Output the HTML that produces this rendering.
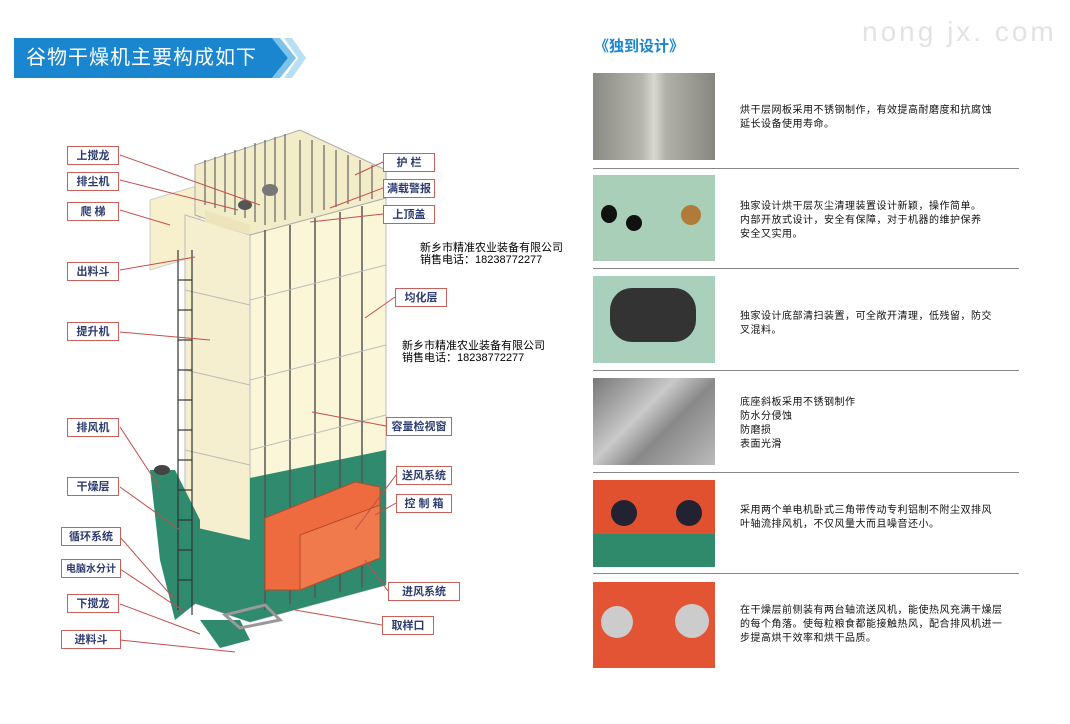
<!DOCTYPE html>
<html><head><meta charset="utf-8"><style>
body{margin:0;width:1070px;height:724px;background:#fff;overflow:hidden;position:relative;font-family:"Liberation Sans","Noto Sans CJK SC",sans-serif}
.lb{position:absolute;width:52px;height:19px;border:1px solid #c9605a;background:#fff;color:#2c3c70;font-size:11px;font-weight:bold;text-align:center;line-height:19px;box-sizing:border-box}
.ph{position:absolute;left:593px;width:122px}
.tx{position:absolute;left:740px;font-size:10px;line-height:14px;color:#111;letter-spacing:0.5px}
.ln{position:absolute;left:593px;width:426px;height:1px;background:#888}
.wm{position:absolute;font-size:11px;line-height:12px;color:#000}
</style></head><body>
<svg width="1070" height="724" style="position:absolute;left:0;top:0">
<polygon points="14,38 272,38 288,58 272,78 14,78" fill="#1a86cf"/>
<polygon points="272,38 280,38 296,58 280,78 272,78 288,58" fill="#7cc2ea"/>
<polygon points="284,38 292,38 306,58 292,78 284,78 298,58" fill="#b8def3"/>
<!-- tower -->
<polygon points="150,200 200,185 200,255 150,270" fill="#f8f0cc" stroke="#ccc" stroke-width="1"/>
<polygon points="185,215 250,235 250,622 185,600" fill="#f6efcf" stroke="#bbb"/>
<polygon points="250,235 386,198 386,585 250,622" fill="#fbf6d8" stroke="#bbb"/>
<polygon points="195,165 300,130 386,170 386,198 250,235 195,215" fill="#f3ecc8" stroke="#aaa"/>
<polygon points="205,210 250,225 250,235 205,222" fill="#eee4bc"/>
<g stroke="#666" stroke-width="1.2">
<line x1="205" y1="160" x2="205" y2="205"/><line x1="215" y1="157" x2="215" y2="208"/><line x1="225" y1="153" x2="225" y2="212"/><line x1="235" y1="150" x2="235" y2="215"/><line x1="245" y1="147" x2="245" y2="218"/><line x1="255" y1="143" x2="255" y2="222"/><line x1="265" y1="140" x2="265" y2="225"/><line x1="275" y1="137" x2="275" y2="222"/><line x1="285" y1="134" x2="285" y2="220"/>
<line x1="300" y1="140" x2="300" y2="216"/><line x1="312" y1="140" x2="312" y2="213"/><line x1="324" y1="145" x2="324" y2="210"/><line x1="336" y1="150" x2="336" y2="207"/><line x1="348" y1="155" x2="348" y2="204"/><line x1="360" y1="160" x2="360" y2="201"/><line x1="372" y1="165" x2="372" y2="199"/>
</g>
<polygon points="250,478 386,450 386,585 250,622" fill="#2f8a6e"/>
<polygon points="185,525 250,540 250,622 185,600" fill="#2f8a6e"/>
<polygon points="150,470 175,470 200,520 200,600 175,620 160,560" fill="#2f8a6e"/>
<polygon points="200,620 240,620 250,640 220,648" fill="#2f8a6e"/>
<g stroke="#555" stroke-width="1.5">
<line x1="265" y1="230" x2="265" y2="610"/><line x1="290" y1="225" x2="290" y2="604"/><line x1="315" y1="218" x2="315" y2="598"/><line x1="340" y1="212" x2="340" y2="592"/><line x1="362" y1="206" x2="362" y2="588"/>
</g>
<g stroke="#bbb" stroke-width="1"><line x1="250" y1="300" x2="386" y2="265"/><line x1="250" y1="380" x2="386" y2="345"/><line x1="250" y1="450" x2="386" y2="415"/><line x1="185" y1="290" x2="250" y2="305"/><line x1="185" y1="370" x2="250" y2="385"/><line x1="185" y1="450" x2="250" y2="465"/></g>
<g stroke="#333" stroke-width="1.2"><line x1="178" y1="250" x2="178" y2="610"/><line x1="192" y1="250" x2="192" y2="615"/>
<line x1="178" y1="280" x2="192" y2="280"/><line x1="178" y1="310" x2="192" y2="310"/><line x1="178" y1="340" x2="192" y2="340"/><line x1="178" y1="370" x2="192" y2="370"/><line x1="178" y1="400" x2="192" y2="400"/><line x1="178" y1="430" x2="192" y2="430"/><line x1="178" y1="460" x2="192" y2="460"/><line x1="178" y1="490" x2="192" y2="490"/><line x1="178" y1="520" x2="192" y2="520"/><line x1="178" y1="550" x2="192" y2="550"/><line x1="178" y1="580" x2="192" y2="580"/></g>
<polygon points="265,518 355,482 380,487 380,558 300,590 265,590" fill="#ee6b3f" stroke="#b84a2a"/>
<polygon points="300,535 380,505 380,558 300,590" fill="#f07a4c" stroke="#b84a2a"/>
<polygon points="225,615 265,605 280,620 240,628" fill="none" stroke="#999" stroke-width="3"/>
<ellipse cx="270" cy="190" rx="8" ry="6" fill="#777"/><ellipse cx="245" cy="205" rx="7" ry="5" fill="#555"/>
<ellipse cx="162" cy="470" rx="8" ry="5" fill="#444"/>
<g stroke="#c0504d" stroke-width="1">
<line x1="120" y1="155" x2="260" y2="205"/><line x1="120" y1="180" x2="238" y2="210"/><line x1="120" y1="210" x2="170" y2="225"/><line x1="120" y1="270" x2="195" y2="257"/><line x1="120" y1="332" x2="210" y2="340"/><line x1="120" y1="427" x2="160" y2="488"/><line x1="120" y1="487" x2="180" y2="530"/><line x1="120" y1="537" x2="175" y2="600"/><line x1="120" y1="569" x2="185" y2="612"/><line x1="120" y1="604" x2="200" y2="634"/><line x1="120" y1="640" x2="235" y2="652"/>
<line x1="383" y1="162" x2="355" y2="175"/><line x1="383" y1="188" x2="330" y2="208"/><line x1="383" y1="214" x2="310" y2="222"/><line x1="395" y1="297" x2="365" y2="318"/><line x1="386" y1="426" x2="312" y2="412"/><line x1="396" y1="475" x2="355" y2="530"/><line x1="396" y1="503" x2="375" y2="515"/><line x1="388" y1="591" x2="365" y2="560"/><line x1="382" y1="625" x2="295" y2="610"/>
</g>
</svg>
<div style="position:absolute;left:26px;top:46px;color:#fff;font-size:20px;letter-spacing:1px;line-height:24px">谷物干燥机主要构成如下</div>
<div class="lb" style="left:67px;top:146px">上搅龙</div>
<div class="lb" style="left:67px;top:172px">排尘机</div>
<div class="lb" style="left:67px;top:202px">爬 梯</div>
<div class="lb" style="left:67px;top:262px">出料斗</div>
<div class="lb" style="left:67px;top:322px">提升机</div>
<div class="lb" style="left:67px;top:418px">排风机</div>
<div class="lb" style="left:67px;top:477px">干燥层</div>
<div class="lb" style="left:61px;top:527px;width:60px">循环系统</div>
<div class="lb" style="left:61px;top:559px;width:60px;font-size:10px">电脑水分计</div>
<div class="lb" style="left:67px;top:594px">下搅龙</div>
<div class="lb" style="left:61px;top:630px;width:60px">进料斗</div>
<div class="lb" style="left:383px;top:153px">护 栏</div>
<div class="lb" style="left:383px;top:179px">满载警报</div>
<div class="lb" style="left:383px;top:205px">上顶盖</div>
<div class="lb" style="left:395px;top:288px">均化层</div>
<div class="lb" style="left:386px;top:417px;width:66px">容量检视窗</div>
<div class="lb" style="left:396px;top:466px;width:56px">送风系统</div>
<div class="lb" style="left:396px;top:494px;width:56px">控 制 箱</div>
<div class="lb" style="left:388px;top:582px;width:72px">进风系统</div>
<div class="lb" style="left:382px;top:616px">取样口</div>
<div class="wm" style="left:420px;top:242px">新乡市精准农业装备有限公司<br>销售电话：18238772277</div>
<div class="wm" style="left:402px;top:340px">新乡市精准农业装备有限公司<br>销售电话：18238772277</div>
<div style="position:absolute;left:862px;top:16px;font-size:28px;color:#e3e3e3;letter-spacing:3px">nong jx. com</div>
<div style="position:absolute;left:594px;top:35px;font-size:15px;font-weight:bold;color:#1a86cf">《独到设计》</div>
<div class="ph" style="top:73px;height:87px;background:linear-gradient(90deg,#8a8a84,#b5b5ac 40%,#d8d8d0 50%,#b0b0a8 60%,#86867e)"></div>
<div class="ph" style="top:175px;height:86px;background:#a9cfb8"><div style="position:absolute;left:8px;top:30px;width:16px;height:18px;border-radius:50%;background:#111"></div><div style="position:absolute;left:33px;top:40px;width:16px;height:16px;border-radius:50%;background:#111"></div><div style="position:absolute;left:88px;top:30px;width:20px;height:20px;border-radius:50%;background:#b07a3a"></div></div>
<div class="ph" style="top:276px;height:87px;background:#a8d0bc"><div style="position:absolute;left:17px;top:12px;width:86px;height:54px;border-radius:22px;background:#333"></div></div>
<div class="ph" style="top:378px;height:87px;background:linear-gradient(135deg,#777,#c9c9c9 40%,#888 60%,#bbb)"></div>
<div class="ph" style="top:480px;height:87px;background:linear-gradient(#e1512f 0,#e1512f 62%,#2e8a6a 62%)"><div style="position:absolute;left:18px;top:20px;width:26px;height:26px;border-radius:50%;background:#223"></div><div style="position:absolute;left:83px;top:20px;width:26px;height:26px;border-radius:50%;background:#223"></div></div>
<div class="ph" style="top:582px;height:86px;background:#e35434"><div style="position:absolute;left:8px;top:24px;width:32px;height:32px;border-radius:50%;background:#ccc"></div><div style="position:absolute;left:82px;top:22px;width:34px;height:34px;border-radius:50%;background:#ccc"></div></div>
<div class="ln" style="top:168px"></div><div class="ln" style="top:268px"></div><div class="ln" style="top:370px"></div><div class="ln" style="top:472px"></div><div class="ln" style="top:573px"></div>
<div class="tx" style="top:104px">烘干层网板采用不锈钢制作，有效提高耐磨度和抗腐蚀<br>延长设备使用寿命。</div>
<div class="tx" style="top:200px">独家设计烘干层灰尘清理装置设计新颖，操作简单。<br>内部开放式设计，安全有保障，对于机器的维护保养<br>安全又实用。</div>
<div class="tx" style="top:310px">独家设计底部清扫装置，可全敞开清理，低残留，防交<br>叉混料。</div>
<div class="tx" style="top:396px">底座斜板采用不锈钢制作<br>防水分侵蚀<br>防磨损<br>表面光滑</div>
<div class="tx" style="top:504px">采用两个单电机卧式三角带传动专利铝制不附尘双排风<br>叶轴流排风机，不仅风量大而且噪音还小。</div>
<div class="tx" style="top:604px">在干燥层前侧装有两台轴流送风机，能使热风充满干燥层<br>的每个角落。使每粒粮食都能接触热风，配合排风机进一<br>步提高烘干效率和烘干品质。</div>
</body></html>
